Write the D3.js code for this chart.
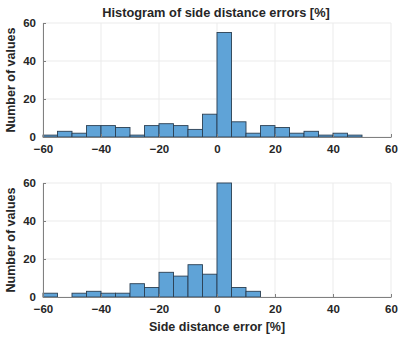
<!DOCTYPE html>
<html><head><meta charset="utf-8">
<script src="https://cdn.jsdelivr.net/npm/d3@7"></script>
<style>
body{margin:0;background:#fff;}
text{font-family:"Liberation Sans",Arial,sans-serif;font-weight:bold;fill:#262626;}
</style></head><body>
<svg id="c" width="399" height="339"></svg>
<script>
const binEdges = d3.range(-60, 60, 5);
const topCounts = [1,3,2,6,6,5,1,6,7,6,4,12,55,8,2,6,5,2,3,1,2,1,0,0];
const bottomCounts = [2,0,2,3,2,2,7,5,13,11,17,12,60,5,3,0,0,0,0,0,0,0,0,0];
const xTicks = [-60,-40,-20,0,20,40,60];
const yTicks = [0,20,40,60];
const titleText = "Histogram of side distance errors [%]";
const yLabelText = "Number of values";
const xLabelText = "Side distance error [%]";

const svg = d3.select("#c");
const x = d3.scaleLinear().domain([-60,60]).range([43,391]);

function panel(counts, top, bottom){
  const y = d3.scaleLinear().domain([0,60]).range([bottom, top]);
  const g = svg.append("g");
  g.selectAll(".gx").data(xTicks).enter().append("line")
    .attr("x1",d=>x(d)).attr("x2",d=>x(d)).attr("y1",top).attr("y2",bottom)
    .attr("stroke","#ebebeb").attr("stroke-width",1);
  g.selectAll(".gy").data(yTicks).enter().append("line")
    .attr("x1",x(-60)).attr("x2",x(60)).attr("y1",d=>y(d)).attr("y2",d=>y(d))
    .attr("stroke","#ebebeb").attr("stroke-width",1);
  const data = binEdges.map((e,i)=>({x0:e,x1:e+5,v:counts[i]})).filter(d=>d.v>0);
  g.selectAll("rect").data(data).enter().append("rect")
    .attr("x",d=>x(d.x0)).attr("width",d=>x(d.x1)-x(d.x0))
    .attr("y",d=>y(d.v)).attr("height",d=>y(0)-y(d.v))
    .attr("fill","#5fa3d7").attr("stroke","#2b3f52").attr("stroke-width",0.9);
  const ax = g.append("g").attr("transform",`translate(0,${bottom})`)
    .call(d3.axisBottom(x).tickValues(xTicks).tickSizeInner(-3).tickSizeOuter(0).tickPadding(8));
  const ay = g.append("g").attr("transform",`translate(${x(-60)},0)`)
    .call(d3.axisLeft(y).tickValues(yTicks).tickSizeInner(-3).tickSizeOuter(0).tickPadding(7));
  [ax,ay].forEach(a=>{
    a.select(".domain").attr("stroke","#808080");
    a.selectAll(".tick line").attr("stroke","#808080");
    a.selectAll("text").style("font-size","11.5px").style("font-family","'Liberation Sans',Arial,sans-serif")
      .style("font-weight","bold").attr("fill","#262626");
  });
  ay.selectAll(".tick text").attr("dy","0.3em");
  svg.append("text").attr("transform",`translate(15,${(top+bottom)/2}) rotate(-90)`)
    .attr("text-anchor","middle").style("font-size","12.5px").text(yLabelText);
}
panel(topCounts, 23, 137);
panel(bottomCounts, 183, 297);
svg.append("text").attr("x",216).attr("y",17).attr("text-anchor","middle")
  .style("font-size","12.8px").text(titleText);
svg.append("text").attr("x",217).attr("y",331).attr("text-anchor","middle")
  .style("font-size","12.5px").text(xLabelText);
</script></body></html>
